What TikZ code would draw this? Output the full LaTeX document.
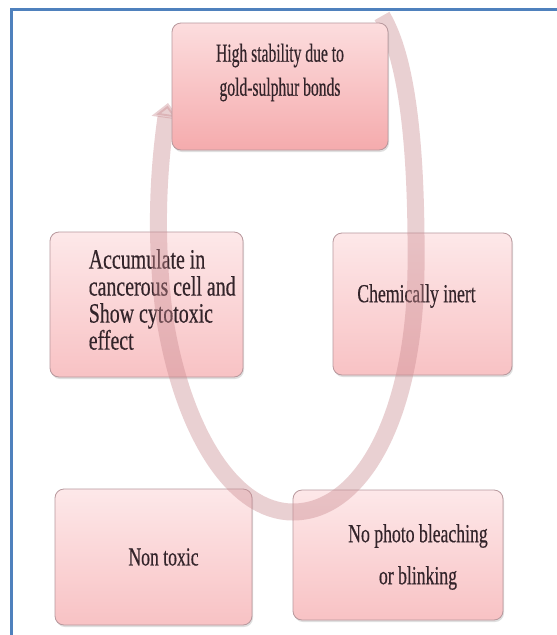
\documentclass[tikz,border=0pt]{standalone}
\usepackage{fontspec}
\usepackage{xcolor}
\usetikzlibrary{positioning,arrows.meta,shadows}
\newfontfamily\cardfont[FakeStretch=0.68, FakeBold=0.4]{Liberation Serif}
\newfontfamily\keyfont[FakeStretch=0.6, FakeBold=0.4]{Liberation Serif}
\newfontfamily\widefont[FakeStretch=0.71, FakeBold=0.4]{Liberation Serif}
\definecolor{frameblue}{HTML}{4F81BD}
\definecolor{cardtop}{HTML}{FDE8E9}
\definecolor{cardbot}{HTML}{F8C2C4}
\definecolor{keytop}{HTML}{FCDDDE}
\definecolor{keybot}{HTML}{F5ABAD}
\definecolor{cardline}{HTML}{B8989D}
\definecolor{cardink}{HTML}{33242A}
\definecolor{cyclepink}{HTML}{C98A90}

\begin{document}
\begin{tikzpicture}[x=1pt, y=-1pt,
    card/.style={draw=cardline, line width=0.8pt, rounded corners=9pt,
                 top color=cardtop, bottom color=cardbot,
                 drop shadow={opacity=0.25, shadow xshift=1pt, shadow yshift=-2pt},
                 inner sep=0pt},
    cardtext/.style={font=\cardfont\fontsize{26}{36}\selectfont, text=cardink,
                     align=center, inner sep=0pt},
    cycle/.style={line width=17pt, draw=cyclepink, opacity=0.4,
                  -{Triangle[width=28pt, length=15pt]}},
]
\useasboundingbox (0,0) rectangle (557,635);
\fill[white] (0,0) rectangle (557,635);
\draw[frameblue, line width=3pt] (11,640) -- (11,9.5) -- (560,9.5);

% property boxes
\node[card, minimum width=193pt, minimum height=145pt] (accum) at (146.5,304.5) {};
\node[cardtext, font=\widefont\fontsize{28}{27}\selectfont, align=left,
      anchor=west] (accumtxt) at ([xshift=39pt, yshift=5pt]accum.west)
    {Accumulate in\\cancerous cell and\\Show cytotoxic\\effect};
\node[card, minimum width=179pt, minimum height=142pt] (inert) at (422.5,304) {};
\node[cardtext] (inerttxt) at ([xshift=-6pt, yshift=8pt]inert.center)
    {Chemically inert};
\node[card, minimum width=197pt, minimum height=136pt] (nontox) at (153.5,557) {};
\node[cardtext] (nontoxtxt) at ([xshift=10pt]nontox.center) {Non toxic};
\node[card, minimum width=210pt, minimum height=130pt] (bleach) at (398,555) {};
\node[cardtext, font=\cardfont\fontsize{26}{42}\selectfont]
    (bleachtxt) at ([xshift=20pt, yshift=-2pt]bleach.center)
    {No photo bleaching\\or blinking};

% big cycle arrow, passing behind the top box
\draw[cycle] (382,16) .. controls (408,60) and (417,150) .. (416,270)
    .. controls (414,420) and (360,512) .. (293,512)
    .. controls (232,512) and (183,430) .. (165,320)
    .. controls (153,230) and (160,160) .. (168,103);

\node[card, top color=keytop, bottom color=keybot,
      minimum width=216pt, minimum height=127pt] (stab) at (280,86.5) {};
\node[cardtext, font=\keyfont\fontsize{26}{34}\selectfont]
    (stabtxt) at ([yshift=14pt]stab.center)
    {High stability due to\\gold-sulphur bonds};
\end{tikzpicture}
\end{document}
